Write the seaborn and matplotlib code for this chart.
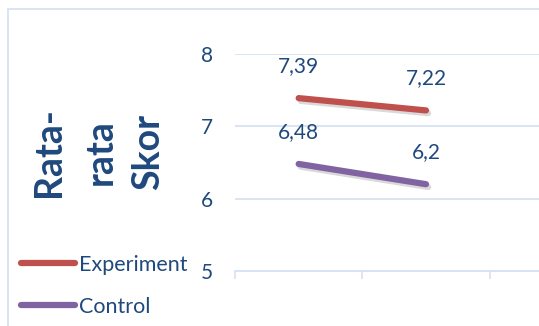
import matplotlib
matplotlib.use("Agg")
import matplotlib.pyplot as plt
import matplotlib.patheffects as pe
from matplotlib.patches import Rectangle
from matplotlib.lines import Line2D
import seaborn as sns
import pandas as pd

# ---- data ----
categories = ["1", "2"]
series_names = ["Experiment", "Control"]
experiment = [7.39, 7.22]
control = [6.48, 6.20]
label_exp = ["7,39", "7,22"]
label_ctl = ["6,48", "6,2"]
y_ticks = [5, 6, 7, 8]
y_title_lines = ["Rata-", "rata", "Skor"]

colors = {"Experiment": "#C0504D", "Control": "#8064A2"}
text_color = "#1F497D"
grid_color = "#D7E3F2"

df = pd.DataFrame({
    "cat": categories * 2,
    "group": [series_names[0]] * 2 + [series_names[1]] * 2,
    "value": experiment + control,
})

sns.set_theme(style="white")
plt.rcParams["font.family"] = ["Lato", "DejaVu Sans"]

fig = plt.figure(figsize=(5.39, 3.26), dpi=100)
ax = fig.add_axes([235 / 539, 1 - 271 / 326, (617 - 235) / 539, (271 - 54) / 326])

sns.lineplot(data=df, x="cat", y="value", hue="group", palette=colors,
             linewidth=4.5, ax=ax, legend=False, sort=False)
for line in ax.get_lines():
    line.set_solid_capstyle("round")
    line.set_path_effects([pe.SimpleLineShadow(offset=(1.5, -2), shadow_color="#000000", alpha=0.15),
                           pe.Normal()])

for vals, labs in [(experiment, label_exp), (control, label_ctl)]:
    for i, (v, l) in enumerate(zip(vals, labs)):
        ax.annotate(l, (i, v), xytext=(0, 23), textcoords="offset points",
                    ha="center", va="center", fontsize=15, color=text_color)

ax.set_xlim(-0.5, 2.5)
ax.set_ylim(5, 8)
ax.set_yticks(y_ticks)
ax.set_yticklabels([str(t) for t in y_ticks], fontsize=15, color=text_color)
ax.set_xticks([-0.5, 0.5, 1.5, 2.5])
ax.set_xticklabels([])
ax.set_xlabel("")
ax.set_ylabel("")
ax.tick_params(axis="y", length=0, pad=16)
ax.tick_params(axis="x", length=6, width=1.2, color=grid_color, direction="out", bottom=True)
ax.grid(axis="y", color=grid_color, linewidth=1.3)
ax.grid(axis="x", visible=False)
for s in ["top", "right", "left"]:
    ax.spines[s].set_visible(False)
ax.spines["bottom"].set_color(grid_color)
ax.spines["bottom"].set_linewidth(1.3)

# y title lines
for xp, t in zip([49, 101, 148], y_title_lines):
    fig.text(xp / 539, 1 - 152 / 326, t, rotation=90, ha="center", va="center",
             fontsize=27, fontweight="bold", color=text_color)

# legend
handles = [Line2D([], [], color=colors[n], linewidth=4.5, solid_capstyle="round") for n in series_names]
fig.legend(handles, series_names, loc="upper left", bbox_to_anchor=(21 / 539, 1 - 255 / 326),
           frameon=False, fontsize=15.5, labelcolor=text_color, handlelength=2.5,
           handletextpad=0.2, labelspacing=1.0, borderaxespad=0, borderpad=0)

# chart frame
fig.patches.append(Rectangle((8 / 539, -0.1), 1.2, 1 - 9 / 326 + 0.1, transform=fig.transFigure,
                             fill=False, edgecolor=grid_color, linewidth=1.3))

fig.savefig("out.png", dpi=100)
